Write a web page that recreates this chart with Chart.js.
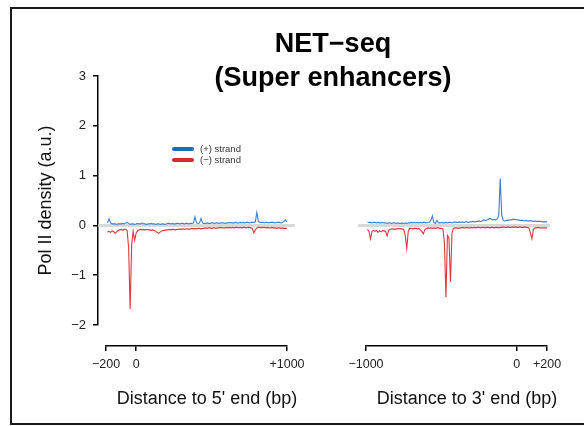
<!DOCTYPE html>
<html><head><meta charset="utf-8">
<script src="https://cdn.jsdelivr.net/npm/chart.js@4.4.1/dist/chart.umd.min.js"></script>
<style>
html,body{margin:0;padding:0;background:#fff;overflow:hidden;}
#wrap{position:relative;width:584px;height:426px;overflow:hidden;background:#fff;font-family:"Liberation Sans",Arial,sans-serif;}
canvas{position:absolute;left:0;top:0;}
#frame{position:absolute;left:10px;top:7px;width:600px;height:418px;border:2px solid #1a1a1a;box-sizing:border-box;}
#title{position:absolute;left:183px;top:26px;width:300px;text-align:center;font-weight:bold;font-size:27px;line-height:34px;color:#000;}
.xt{position:absolute;top:387px;width:240px;text-align:center;font-size:18px;line-height:22px;color:#111;}
#leg{position:absolute;left:172px;top:143px;font-size:9.5px;color:#333;}
.row{height:11px;display:flex;align-items:center;}
.sw{width:22px;height:4px;border-radius:2px;margin-right:6px;}
</style>
</head>
<body>
<div id="wrap">
  <div id="frame"></div>
  <canvas id="cLeft" width="584" height="426"></canvas>
  <canvas id="cRight" width="584" height="426"></canvas>
  <div id="title">NET−seq<br>(Super enhancers)</div>
  <div class="xt" style="left:87px">Distance to 5' end (bp)</div>
  <div class="xt" style="left:347px">Distance to 3' end (bp)</div>
  <div id="leg">
    <div class="row"><span class="sw" style="background:#1b6ac0"></span>(+) strand</div>
    <div class="row"><span class="sw" style="background:#d42a2e"></span>(−) strand</div>
  </div>
</div>
<script>
// ---- axis ticks ----
const yTickValues = [-2, -1, 0, 1, 2, 3];
const yTickLabels = ['−2', '−1', '0', '1', '2', '3'];
const leftTickValues = [-200, 0, 1000];
const leftTickLabels = ['−200', '0', '+1000'];
const rightTickValues = [-1000, 0, 200];
const rightTickLabels = ['−1000', '0', '+200'];

// ---- bins (bp) ----
const binSize = 10;
const leftStart = -190;   // distance to 5' end, first bin
const rightStart = -990;  // distance to 3' end, first bin

// ---- 5' end, (+) strand ----
const leftPlus = [
  0.05,0.13,0.05,0.03,0.03,0.03,0.02,0.03,0.03,0.03,
  0.04,0.03,0.05,0.06,0.04,0.02,0.03,0.03,0.02,0.03,
  0.04,0.03,0.03,0.05,0.03,0.03,0.02,0.03,0.03,0.04,
  0.03,0.03,0.02,0.03,0.03,0.02,0.03,0.03,0.02,0.03,
  0.04,0.04,0.03,0.04,0.03,0.03,0.04,0.04,0.03,0.04,
  0.04,0.03,0.04,0.04,0.03,0.04,0.04,0.05,0.17,0.05,
  0.04,0.05,0.14,0.05,0.04,0.04,0.05,0.04,0.04,0.05,
  0.05,0.04,0.05,0.05,0.04,0.05,0.05,0.05,0.04,0.05,
  0.05,0.06,0.05,0.05,0.05,0.06,0.05,0.05,0.06,0.05,
  0.06,0.05,0.06,0.06,0.05,0.06,0.06,0.06,0.07,0.26,
  0.08,0.06,0.06,0.06,0.05,0.06,0.06,0.05,0.06,0.06,
  0.06,0.05,0.06,0.06,0.06,0.05,0.06,0.08,0.11,0.07
];
// ---- 5' end, (−) strand ----
const leftMinus = [
  -0.13,-0.12,-0.14,-0.11,-0.12,-0.16,-0.13,-0.10,-0.09,-0.08,
  -0.10,-0.08,-0.08,-0.10,-0.45,-1.68,-0.40,-0.12,-0.30,-0.15,
  -0.10,-0.09,-0.08,-0.09,-0.08,-0.09,-0.08,-0.09,-0.09,-0.10,
  -0.09,-0.10,-0.12,-0.14,-0.16,-0.13,-0.11,-0.10,-0.10,-0.09,
  -0.09,-0.08,-0.09,-0.08,-0.08,-0.09,-0.08,-0.08,-0.07,-0.08,
  -0.07,-0.08,-0.07,-0.07,-0.08,-0.07,-0.06,-0.07,-0.06,-0.07,
  -0.06,-0.06,-0.07,-0.06,-0.06,-0.05,-0.06,-0.05,-0.05,-0.06,
  -0.05,-0.05,-0.06,-0.05,-0.05,-0.04,-0.05,-0.05,-0.05,-0.04,
  -0.05,-0.04,-0.05,-0.04,-0.05,-0.04,-0.04,-0.05,-0.04,-0.05,
  -0.04,-0.04,-0.05,-0.04,-0.04,-0.05,-0.06,-0.15,-0.09,-0.05,
  -0.04,-0.04,-0.05,-0.04,-0.04,-0.05,-0.04,-0.05,-0.05,-0.04,
  -0.05,-0.05,-0.06,-0.05,-0.05,-0.06,-0.05,-0.06,-0.06,-0.06
];
// ---- 3' end, (+) strand ----
const rightPlus = [
  0.07,0.06,0.06,0.05,0.06,0.06,0.05,0.06,0.05,0.05,
  0.06,0.05,0.05,0.04,0.05,0.05,0.04,0.05,0.05,0.04,
  0.05,0.04,0.04,0.05,0.04,0.05,0.04,0.05,0.05,0.06,
  0.05,0.06,0.05,0.06,0.05,0.06,0.05,0.06,0.06,0.05,
  0.06,0.07,0.10,0.19,0.06,0.04,0.10,0.05,0.05,0.06,
  0.05,0.05,0.06,0.05,0.06,0.06,0.05,0.06,0.07,0.06,
  0.06,0.07,0.06,0.07,0.06,0.07,0.07,0.06,0.07,0.07,
  0.08,0.07,0.08,0.08,0.09,0.08,0.09,0.11,0.10,0.11,
  0.12,0.14,0.13,0.11,0.12,0.11,0.13,0.20,0.94,0.20,
  0.10,0.09,0.10,0.10,0.11,0.11,0.12,0.12,0.12,0.11,
  0.11,0.10,0.10,0.10,0.09,0.10,0.09,0.09,0.09,0.09,
  0.08,0.09,0.08,0.08,0.08,0.08,0.07,0.07,0.07,0.07
];
// ---- 3' end, (−) strand ----
const rightMinus = [
  -0.08,-0.12,-0.27,-0.12,-0.10,-0.12,-0.10,-0.14,-0.11,-0.13,
  -0.10,-0.11,-0.12,-0.21,-0.10,-0.08,-0.07,-0.07,-0.08,-0.07,
  -0.07,-0.06,-0.07,-0.07,-0.08,-0.20,-0.46,-0.12,-0.06,-0.06,
  -0.07,-0.06,-0.06,-0.07,-0.06,-0.09,-0.12,-0.17,-0.09,-0.06,
  -0.05,-0.06,-0.05,-0.06,-0.05,-0.06,-0.05,-0.05,-0.06,-0.06,
  -0.07,-0.35,-1.44,-0.20,-0.25,-1.13,-0.15,-0.06,-0.05,-0.05,
  -0.06,-0.05,-0.05,-0.04,-0.05,-0.05,-0.04,-0.05,-0.05,-0.04,
  -0.05,-0.04,-0.05,-0.04,-0.04,-0.05,-0.04,-0.04,-0.05,-0.04,
  -0.04,-0.05,-0.04,-0.04,-0.05,-0.04,-0.04,-0.05,-0.04,-0.04,
  -0.03,-0.04,-0.04,-0.03,-0.04,-0.04,-0.03,-0.04,-0.03,-0.04,
  -0.04,-0.03,-0.04,-0.04,-0.03,-0.04,-0.04,-0.05,-0.15,-0.27,
  -0.08,-0.05,-0.05,-0.04,-0.05,-0.05,-0.05,-0.05,-0.05,-0.05
];
// zero reference line extent (bp) for each panel
const leftZeroExtent = [-252, 1052];
const rightZeroExtent = [-1052, 220];

const FONT = '"Liberation Sans", Arial, sans-serif';

function toPoints(values, start) {
  return values.map((v, i) => ({ x: start + i * binSize, y: v }));
}

function makeChart(id, plus, minus, start, xRange, tickVals, tickLabels, zeroExt, showY, padding) {
  const scales = {
    x: {
      type: 'linear', position: 'bottom', weight: 1, min: xRange[0], max: xRange[1],
      afterBuildTicks: s => { s.ticks = tickVals.map(v => ({ value: v })); },
      ticks: { autoSkip: false, maxRotation: 0, padding: 6, color: '#222',
               font: { family: FONT, size: 12.5 },
               callback: (v, i) => tickLabels[i] },
      grid: { display: true, drawOnChartArea: false, drawTicks: true, tickLength: 5, color: '#000', lineWidth: 1.5 },
      border: { display: true, color: '#000', width: 1.5 },
      afterFit: s => { s.height = 30; }
    },
    xpad: {
      type: 'linear', axis: 'x', position: 'bottom', weight: 0, display: true,
      grid: { display: false }, border: { display: false }, ticks: { display: false },
      afterFit: s => { s.height = 21; }
    },
    y: {
      type: 'linear', position: 'left', weight: 1, min: -2, max: 3, display: showY,
      afterBuildTicks: s => { s.ticks = yTickValues.map(v => ({ value: v })); },
      ticks: { padding: 7, color: '#222', font: { family: FONT, size: 13 },
               callback: (v, i) => yTickLabels[i] },
      grid: { display: true, drawOnChartArea: false, drawTicks: true, tickLength: 5, color: '#000', lineWidth: 1.5 },
      border: { display: true, color: '#000', width: 1.5 },
      title: { display: true, text: 'Pol II density (a.u.)', color: '#111',
               font: { family: FONT, size: 18 }, padding: { top: 0, bottom: 0 } },
      afterFit: s => { s.width = showY ? 63 : 0; }
    }
  };
  if (showY) {
    scales.ypad = {
      type: 'linear', axis: 'y', position: 'left', weight: 0, display: true,
      grid: { display: false }, border: { display: false }, ticks: { display: false },
      afterFit: s => { s.width = 8; }
    };
  }
  return new Chart(document.getElementById(id), {
    type: 'line',
    data: {
      datasets: [
        { label: '(+) strand', data: toPoints(plus, start), borderColor: '#3a7fce',
          borderWidth: 1.1, pointRadius: 0, tension: 0, order: 1 },
        { label: '(−) strand', data: toPoints(minus, start), borderColor: '#e0383c',
          borderWidth: 1.1, pointRadius: 0, tension: 0, order: 2 },
        { label: 'zero', data: zeroExt.map(x => ({ x: x, y: 0 })), borderColor: '#d8d8d8',
          borderWidth: 3, pointRadius: 0, clip: false, order: 5 }
      ]
    },
    options: {
      responsive: false, animation: false,
      layout: { padding: padding },
      plugins: { legend: { display: false }, tooltip: { enabled: false } },
      scales: scales
    }
  });
}

makeChart('cLeft', leftPlus, leftMinus, leftStart, [-200, 1000], leftTickValues, leftTickLabels,
          leftZeroExtent, true, { left: 35, top: 76, right: 297, bottom: 50 });
makeChart('cRight', rightPlus, rightMinus, rightStart, [-1000, 200], rightTickValues, rightTickLabels,
          rightZeroExtent, false, { left: 366, top: 76, right: 37, bottom: 50 });
</script>
</body></html>
